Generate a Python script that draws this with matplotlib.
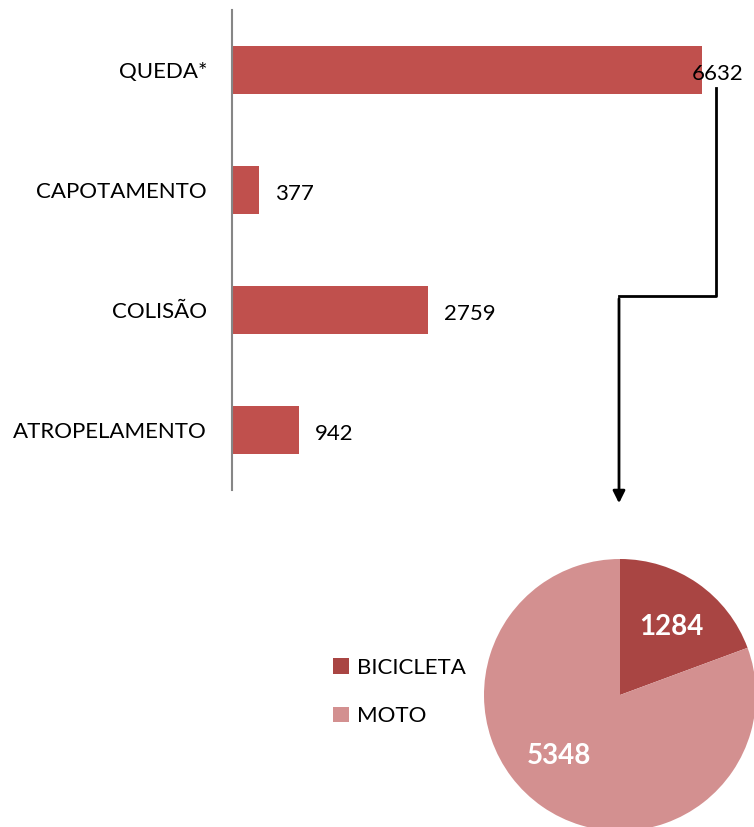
import matplotlib.pyplot as plt
from matplotlib.lines import Line2D
from matplotlib.patches import FancyArrowPatch

plt.rcParams['font.family'] = ['Lato', 'DejaVu Sans']

# ==== data ====
categorias = ["QUEDA*", "CAPOTAMENTO", "COLISÃO", "ATROPELAMENTO"]
valores = [6632, 377, 2759, 942]
tipos_queda = ["BICICLETA", "MOTO"]
valores_queda = [1284, 5348]

cor_barra = "#C0504D"
cores_pie = ["#A94543", "#D39090"]

W, H = 754, 827
fig = plt.figure(figsize=(W / 100, H / 100), dpi=100)

# ==== bar chart ====
ax = fig.add_axes([232 / W, 337 / H, 522 / W, 480 / H])
y = range(len(categorias))
ax.barh(y, valores, height=0.4, color=cor_barra)
ax.set_ylim(3.5, -0.5)
ax.set_xlim(0, 6632 * 522 / 470)
ax.set_yticks(list(y))
ax.set_yticklabels(categorias, fontsize=16)
ax.tick_params(axis="y", length=0, pad=18)
ax.set_xticks([])
for s in ["top", "right", "bottom"]:
    ax.spines[s].set_visible(False)
ax.spines["left"].set_color("#868686")
ax.spines["left"].set_linewidth(1.5)
for i, v in enumerate(valores):
    if i == 0:
        ax.text(v - 140, i + 0.03, str(v), va="center", ha="left", fontsize=16)
    else:
        ax.text(v + 230, i + 0.03, str(v), va="center", ha="left", fontsize=16)

# ==== connector arrow ====
pts = [(716, 88), (716, 296), (619, 296)]
xs = [p[0] / W for p in pts]
ys = [1 - p[1] / H for p in pts]
fig.add_artist(Line2D(xs, ys, color="black", lw=2, transform=fig.transFigure))
fig.add_artist(FancyArrowPatch((619 / W, 1 - 296 / H), (619 / W, 1 - 506 / H),
                               transform=fig.transFigure, arrowstyle="-|>",
                               mutation_scale=18, color="black", lw=2))

# ==== pie ====
axp = fig.add_axes([484 / W, -4 / H, 272 / W, 272 / H])
wedges, _, autotexts = axp.pie(valores_queda, colors=cores_pie, startangle=90,
                               counterclock=False, autopct=lambda p: "",
                               pctdistance=0.65, radius=1.0)
axp.set_xlim(-1, 1)
axp.set_ylim(-1, 1)
axp.set_aspect("equal")
for t, v in zip(autotexts, valores_queda):
    t.set_text(str(v))
    t.set_color("white")
    t.set_fontsize(20)
    t.set_fontweight("bold")
autotexts[1].set_position((-0.45, -0.45))
autotexts[0].set_position((0.38, 0.5))

fig.legend(wedges, tipos_queda, loc="center left",
           bbox_to_anchor=(313 / W, 1 - 692 / H), frameon=False, fontsize=16,
           handlelength=0.7, handleheight=0.7, handletextpad=0.4, labelspacing=1.3)

fig.savefig("out.png", dpi=100)
